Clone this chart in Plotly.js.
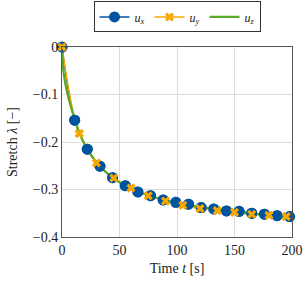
<!DOCTYPE html>
<html>
<head>
<meta charset="utf-8">
<script src="https://cdn.plot.ly/plotly-3.0.1.min.js"></script>
<style>html,body{margin:0;padding:0;background:#fff;}#chart{width:307px;height:281px;}</style>
</head>
<body>
<div id="chart"></div>
<script>
// u_x samples (circles)
const tX = [0, 11, 22, 33, 44, 55, 66, 77, 88, 99, 110, 121, 132, 143, 154, 165, 176, 187, 198];
const uX = [0, -0.154, -0.215, -0.251, -0.275, -0.292, -0.305, -0.313, -0.322, -0.327, -0.331, -0.338, -0.341, -0.345, -0.346, -0.350, -0.352, -0.355, -0.357];
// u_y samples (crosses)
const tY = [0, 15, 30, 45, 60, 75, 90, 105, 120, 135, 150, 165, 180, 195];
const uY = [0, -0.182, -0.244, -0.276, -0.297, -0.313, -0.324, -0.333, -0.340, -0.344, -0.348, -0.352, -0.354, -0.357];
// u_z continuous curve
const tZ = [0, 1, 2, 3, 4, 5, 6, 8, 10, 12, 15, 18, 22, 26, 30, 35, 40, 45, 50, 60, 70, 80, 90, 100, 110, 120, 130, 140, 150, 160, 170, 180, 190, 200];
const uZ = [0, -0.045, -0.064, -0.079, -0.091, -0.101, -0.111, -0.128, -0.144, -0.158, -0.180, -0.196, -0.215, -0.230, -0.243, -0.256, -0.267, -0.276, -0.285, -0.298, -0.308, -0.316, -0.323, -0.328, -0.332, -0.337, -0.340, -0.344, -0.347, -0.350, -0.352, -0.354, -0.356, -0.358];
const legendNames = ['<i>u</i><sub><i>x</i></sub>', '<i>u</i><sub><i>y</i></sub>', '<i>u</i><sub><i>z</i></sub>'];

const cBlue = '#00549F', cOrange = '#F6A800', cGreen = '#57AB27';
const FONT = 'Liberation Serif';

const traces = [
  {x: tX, y: uX, name: legendNames[0], mode: 'lines+markers', legendrank: 1,
   line: {color: cBlue, width: 1.5, shape: 'spline'}, marker: {symbol: 'circle', size: 11, color: cBlue}},
  {x: tY, y: uY, name: legendNames[1], mode: 'lines+markers', legendrank: 2,
   line: {color: cOrange, width: 1.5, shape: 'spline'}, marker: {symbol: 'x', size: 8, color: cOrange}},
  {x: tZ, y: uZ, name: legendNames[2], mode: 'lines', legendrank: 3, line: {color: cGreen, width: 2.2, shape: 'spline'}},
  {x: tX, y: uX, mode: 'markers', showlegend: false, hoverinfo: 'skip', cliponaxis: false,
   marker: {symbol: 'circle', size: 11, color: cBlue}},
  {x: tY, y: uY, mode: 'markers', showlegend: false, hoverinfo: 'skip', cliponaxis: false,
   marker: {symbol: 'x', size: 8, color: cOrange}}
];

const layout = {
  width: 307, height: 281,
  margin: {l: 62, r: 15, t: 47, b: 44, pad: 0, autoexpand: false},
  paper_bgcolor: '#fff', plot_bgcolor: '#fff',
  font: {family: FONT, size: 13, color: '#222'},
  showlegend: true,
  legend: {orientation: 'h', x: 0.5, xanchor: 'center', y: 1.24, yanchor: 'top',
           bordercolor: '#333', borderwidth: 1, font: {family: FONT, size: 12},
           itemwidth: 30, tracegroupgap: 0},
  xaxis: {range: [0, 200], dtick: 50, tick0: 0, showline: true, mirror: true, linecolor: '#555', linewidth: 1,
          showgrid: true, gridcolor: '#dcdcdc', gridwidth: 1, zeroline: false, ticks: '',
          tickfont: {family: FONT, size: 14},
          title: {text: 'Time <i>t</i> [s]', font: {family: FONT, size: 14}, standoff: 6}},
  yaxis: {range: [-0.4, 0], dtick: 0.1, tick0: 0, showline: true, mirror: true, linecolor: '#555', linewidth: 1,
          showgrid: true, gridcolor: '#dcdcdc', gridwidth: 1, zeroline: false, ticks: '',
          tickfont: {family: FONT, size: 14},
          title: {text: 'Stretch <i>λ</i> [−]', font: {family: FONT, size: 14}, standoff: 11}}
};

Plotly.newPlot('chart', traces, layout, {displayModeBar: false, staticPlot: true});
</script>
</body>
</html>
